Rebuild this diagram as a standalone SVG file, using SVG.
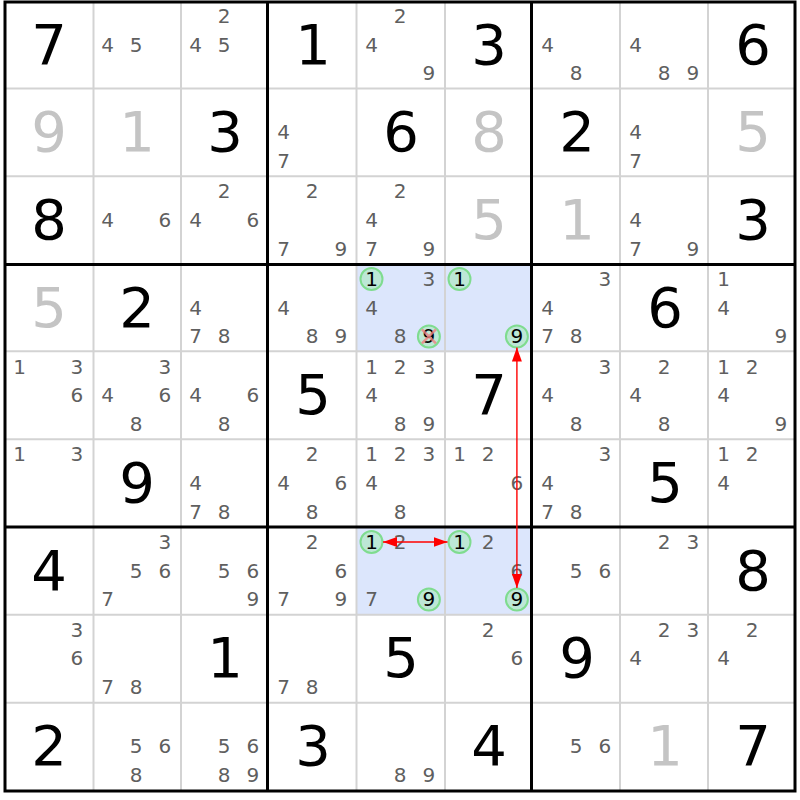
<svg xmlns="http://www.w3.org/2000/svg" width="800" height="800" viewBox="0 0 800 800">
<style>
text{font-family:"DejaVu Sans",Verdana,sans-serif;text-anchor:middle}
.c{font-size:20px;fill:#5f5f5f}
.k{font-size:20px;fill:#000}
.g{font-size:56px;fill:#000}
.s{font-size:56px;fill:#c4c4c4}
.hl{fill:#dce6fc}
.ci{fill:#bde7d6;stroke:#7fdc8f;stroke-width:2}
.x{stroke:#f08080;stroke-width:2.5;opacity:0.8}
.thin{stroke:#d3d3d3;stroke-width:2}
.thick{stroke:#000;stroke-width:3}
.arr{stroke:#ff0000;stroke-width:1.4;fill:none}
</style>
<defs>
<marker id="ah" markerUnits="userSpaceOnUse" markerWidth="14" markerHeight="10" refX="14" refY="5" orient="auto-start-reverse">
<path d="M0,0 L14,5 L0,10 z" fill="#ff0000"/>
</marker>
</defs>
<rect x="0" y="0" width="800" height="800" fill="#fff"/>

<g id="r1c1"><text class="g" x="49" y="63.5">7</text></g>
<g id="r1c2"><text class="c" x="107.5" y="51.7">4</text><text class="c" x="136.2" y="51.7">5</text></g>
<g id="r1c3"><text class="c" x="224.2" y="23">2</text><text class="c" x="195.5" y="51.7">4</text><text class="c" x="224.2" y="51.7">5</text></g>
<g id="r1c4"><text class="g" x="313" y="63.5">1</text></g>
<g id="r1c5"><text class="c" x="400.2" y="23">2</text><text class="c" x="371.5" y="51.7">4</text><text class="c" x="428.9" y="80.4">9</text></g>
<g id="r1c6"><text class="g" x="489" y="63.5">3</text></g>
<g id="r1c7"><text class="c" x="547.5" y="51.7">4</text><text class="c" x="576.2" y="80.4">8</text></g>
<g id="r1c8"><text class="c" x="635.5" y="51.7">4</text><text class="c" x="664.2" y="80.4">8</text><text class="c" x="692.9" y="80.4">9</text></g>
<g id="r1c9"><text class="g" x="753" y="63.5">6</text></g>

<g id="r2c1"><text class="s" x="49" y="151.2">9</text></g>
<g id="r2c2"><text class="s" x="137" y="151.2">1</text></g>
<g id="r2c3"><text class="g" x="225" y="151.2">3</text></g>
<g id="r2c4"><text class="c" x="283.5" y="139.4">4</text><text class="c" x="283.5" y="168.1">7</text></g>
<g id="r2c5"><text class="g" x="401" y="151.2">6</text></g>
<g id="r2c6"><text class="s" x="489" y="151.2">8</text></g>
<g id="r2c7"><text class="g" x="577" y="151.2">2</text></g>
<g id="r2c8"><text class="c" x="635.5" y="139.4">4</text><text class="c" x="635.5" y="168.1">7</text></g>
<g id="r2c9"><text class="s" x="753" y="151.2">5</text></g>

<g id="r3c1"><text class="g" x="49" y="238.8">8</text></g>
<g id="r3c2"><text class="c" x="107.5" y="227">4</text><text class="c" x="164.9" y="227">6</text></g>
<g id="r3c3"><text class="c" x="224.2" y="198.3">2</text><text class="c" x="195.5" y="227">4</text><text class="c" x="252.9" y="227">6</text></g>
<g id="r3c4"><text class="c" x="312.2" y="198.3">2</text><text class="c" x="283.5" y="255.7">7</text><text class="c" x="340.9" y="255.7">9</text></g>
<g id="r3c5"><text class="c" x="400.2" y="198.3">2</text><text class="c" x="371.5" y="227">4</text><text class="c" x="371.5" y="255.7">7</text><text class="c" x="428.9" y="255.7">9</text></g>
<g id="r3c6"><text class="s" x="489" y="238.8">5</text></g>
<g id="r3c7"><text class="s" x="577" y="238.8">1</text></g>
<g id="r3c8"><text class="c" x="635.5" y="227">4</text><text class="c" x="635.5" y="255.7">7</text><text class="c" x="692.9" y="255.7">9</text></g>
<g id="r3c9"><text class="g" x="753" y="238.8">3</text></g>

<g id="r4c1"><text class="s" x="49" y="326.5">5</text></g>
<g id="r4c2"><text class="g" x="137" y="326.5">2</text></g>
<g id="r4c3"><text class="c" x="195.5" y="314.7">4</text><text class="c" x="195.5" y="343.4">7</text><text class="c" x="224.2" y="343.4">8</text></g>
<g id="r4c4"><text class="c" x="283.5" y="314.7">4</text><text class="c" x="312.2" y="343.4">8</text><text class="c" x="340.9" y="343.4">9</text></g>
<g id="r4c5"><rect class="hl" x="357" y="264.5" width="88" height="87.7"/>
<circle class="ci" cx="371.5" cy="279" r="11"/><text class="k" x="371.5" y="286">1</text>
<text class="c" x="428.9" y="286">3</text><text class="c" x="371.5" y="314.7">4</text><text class="c" x="400.2" y="343.4">8</text>
<circle class="ci" cx="428.9" cy="336.4" r="11"/><text class="k" x="428.9" y="343.4">9</text>
<path class="x" d="M421.9,329.4 L435.9,343.4 M435.9,329.4 L421.9,343.4"/></g>
<g id="r4c6"><rect class="hl" x="445" y="264.5" width="88" height="87.7"/>
<circle class="ci" cx="459.5" cy="279" r="11"/><text class="k" x="459.5" y="286">1</text>
<circle class="ci" cx="516.9" cy="336.4" r="11"/><text class="k" x="516.9" y="343.4">9</text></g>
<g id="r4c7"><text class="c" x="604.9" y="286">3</text><text class="c" x="547.5" y="314.7">4</text><text class="c" x="547.5" y="343.4">7</text><text class="c" x="576.2" y="343.4">8</text></g>
<g id="r4c8"><text class="g" x="665" y="326.5">6</text></g>
<g id="r4c9"><text class="c" x="723.5" y="286">1</text><text class="c" x="723.5" y="314.7">4</text><text class="c" x="780.9" y="343.4">9</text></g>

<g id="r5c1"><text class="c" x="19.5" y="373.7">1</text><text class="c" x="76.9" y="373.7">3</text><text class="c" x="76.9" y="402.4">6</text></g>
<g id="r5c2"><text class="c" x="164.9" y="373.7">3</text><text class="c" x="107.5" y="402.4">4</text><text class="c" x="164.9" y="402.4">6</text><text class="c" x="136.2" y="431.1">8</text></g>
<g id="r5c3"><text class="c" x="195.5" y="402.4">4</text><text class="c" x="252.9" y="402.4">6</text><text class="c" x="224.2" y="431.1">8</text></g>
<g id="r5c4"><text class="g" x="313" y="414.2">5</text></g>
<g id="r5c5"><text class="c" x="371.5" y="373.7">1</text><text class="c" x="400.2" y="373.7">2</text><text class="c" x="428.9" y="373.7">3</text><text class="c" x="371.5" y="402.4">4</text><text class="c" x="400.2" y="431.1">8</text><text class="c" x="428.9" y="431.1">9</text></g>
<g id="r5c6"><text class="g" x="489" y="414.2">7</text></g>
<g id="r5c7"><text class="c" x="604.9" y="373.7">3</text><text class="c" x="547.5" y="402.4">4</text><text class="c" x="576.2" y="431.1">8</text></g>
<g id="r5c8"><text class="c" x="664.2" y="373.7">2</text><text class="c" x="635.5" y="402.4">4</text><text class="c" x="664.2" y="431.1">8</text></g>
<g id="r5c9"><text class="c" x="723.5" y="373.7">1</text><text class="c" x="752.2" y="373.7">2</text><text class="c" x="723.5" y="402.4">4</text><text class="c" x="780.9" y="431.1">9</text></g>

<g id="r6c1"><text class="c" x="19.5" y="461.3">1</text><text class="c" x="76.9" y="461.3">3</text></g>
<g id="r6c2"><text class="g" x="137" y="501.8">9</text></g>
<g id="r6c3"><text class="c" x="195.5" y="490">4</text><text class="c" x="195.5" y="518.7">7</text><text class="c" x="224.2" y="518.7">8</text></g>
<g id="r6c4"><text class="c" x="312.2" y="461.3">2</text><text class="c" x="283.5" y="490">4</text><text class="c" x="340.9" y="490">6</text><text class="c" x="312.2" y="518.7">8</text></g>
<g id="r6c5"><text class="c" x="371.5" y="461.3">1</text><text class="c" x="400.2" y="461.3">2</text><text class="c" x="428.9" y="461.3">3</text><text class="c" x="371.5" y="490">4</text><text class="c" x="400.2" y="518.7">8</text></g>
<g id="r6c6"><text class="c" x="459.5" y="461.3">1</text><text class="c" x="488.2" y="461.3">2</text><text class="c" x="516.9" y="490">6</text></g>
<g id="r6c7"><text class="c" x="604.9" y="461.3">3</text><text class="c" x="547.5" y="490">4</text><text class="c" x="547.5" y="518.7">7</text><text class="c" x="576.2" y="518.7">8</text></g>
<g id="r6c8"><text class="g" x="665" y="501.8">5</text></g>
<g id="r6c9"><text class="c" x="723.5" y="461.3">1</text><text class="c" x="752.2" y="461.3">2</text><text class="c" x="723.5" y="490">4</text></g>

<g id="r7c1"><text class="g" x="49" y="589.5">4</text></g>
<g id="r7c2"><text class="c" x="164.9" y="549">3</text><text class="c" x="136.2" y="577.7">5</text><text class="c" x="164.9" y="577.7">6</text><text class="c" x="107.5" y="606.4">7</text></g>
<g id="r7c3"><text class="c" x="224.2" y="577.7">5</text><text class="c" x="252.9" y="577.7">6</text><text class="c" x="252.9" y="606.4">9</text></g>
<g id="r7c4"><text class="c" x="312.2" y="549">2</text><text class="c" x="340.9" y="577.7">6</text><text class="c" x="283.5" y="606.4">7</text><text class="c" x="340.9" y="606.4">9</text></g>
<g id="r7c5"><rect class="hl" x="357" y="527.5" width="88" height="87.7"/>
<circle class="ci" cx="371.5" cy="542" r="11"/><text class="k" x="371.5" y="549">1</text>
<text class="c" x="400.2" y="549">2</text><text class="c" x="371.5" y="606.4">7</text>
<circle class="ci" cx="428.9" cy="599.4" r="11"/><text class="k" x="428.9" y="606.4">9</text></g>
<g id="r7c6"><rect class="hl" x="445" y="527.5" width="88" height="87.7"/>
<circle class="ci" cx="459.5" cy="542" r="11"/><text class="k" x="459.5" y="549">1</text>
<text class="c" x="488.2" y="549">2</text><text class="c" x="516.9" y="577.7">6</text>
<circle class="ci" cx="516.9" cy="599.4" r="11"/><text class="k" x="516.9" y="606.4">9</text></g>
<g id="r7c7"><text class="c" x="576.2" y="577.7">5</text><text class="c" x="604.9" y="577.7">6</text></g>
<g id="r7c8"><text class="c" x="664.2" y="549">2</text><text class="c" x="692.9" y="549">3</text></g>
<g id="r7c9"><text class="g" x="753" y="589.5">8</text></g>

<g id="r8c1"><text class="c" x="76.9" y="636.7">3</text><text class="c" x="76.9" y="665.4">6</text></g>
<g id="r8c2"><text class="c" x="107.5" y="694.1">7</text><text class="c" x="136.2" y="694.1">8</text></g>
<g id="r8c3"><text class="g" x="225" y="677.2">1</text></g>
<g id="r8c4"><text class="c" x="283.5" y="694.1">7</text><text class="c" x="312.2" y="694.1">8</text></g>
<g id="r8c5"><text class="g" x="401" y="677.2">5</text></g>
<g id="r8c6"><text class="c" x="488.2" y="636.7">2</text><text class="c" x="516.9" y="665.4">6</text></g>
<g id="r8c7"><text class="g" x="577" y="677.2">9</text></g>
<g id="r8c8"><text class="c" x="664.2" y="636.7">2</text><text class="c" x="692.9" y="636.7">3</text><text class="c" x="635.5" y="665.4">4</text></g>
<g id="r8c9"><text class="c" x="752.2" y="636.7">2</text><text class="c" x="723.5" y="665.4">4</text></g>

<g id="r9c1"><text class="g" x="49" y="764.9">2</text></g>
<g id="r9c2"><text class="c" x="136.2" y="753.1">5</text><text class="c" x="164.9" y="753.1">6</text><text class="c" x="136.2" y="781.8">8</text></g>
<g id="r9c3"><text class="c" x="224.2" y="753.1">5</text><text class="c" x="252.9" y="753.1">6</text><text class="c" x="224.2" y="781.8">8</text><text class="c" x="252.9" y="781.8">9</text></g>
<g id="r9c4"><text class="g" x="313" y="764.9">3</text></g>
<g id="r9c5"><text class="c" x="400.2" y="781.8">8</text><text class="c" x="428.9" y="781.8">9</text></g>
<g id="r9c6"><text class="g" x="489" y="764.9">4</text></g>
<g id="r9c7"><text class="c" x="576.2" y="753.1">5</text><text class="c" x="604.9" y="753.1">6</text></g>
<g id="r9c8"><text class="s" x="665" y="764.9">1</text></g>
<g id="r9c9"><text class="g" x="753" y="764.9">7</text></g>

<g id="grid">
<path class="thin" d="M93.5,2 V790 M181,2 V790 M356.5,2 V790 M445,2 V790 M620,2 V790 M708,2 V790 M5,88.5 H795 M5,176.3 H795 M5,351.2 H795 M5,439.2 H795 M5,614.8 H795 M5,702.7 H795"/>
<path class="thick" d="M267.5,1 V791 M531.5,1 V791 M4,264.5 H796 M4,527 H796"/>
<rect x="5" y="2" width="790" height="789" fill="none" stroke="#000" stroke-width="3"/>
</g>

<g id="connectors">
<line class="arr" x1="383" y1="542" x2="447.5" y2="542" marker-start="url(#ah)" marker-end="url(#ah)"/>
<line class="arr" x1="516.9" y1="347.5" x2="516.9" y2="588" marker-start="url(#ah)" marker-end="url(#ah)"/>
</g>
</svg>
